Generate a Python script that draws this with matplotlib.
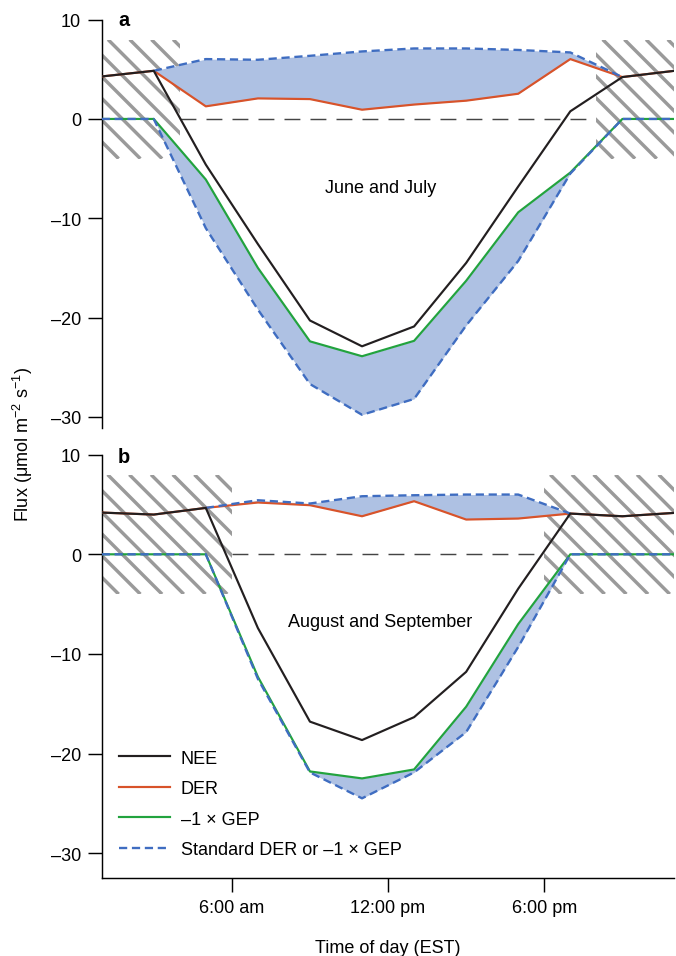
import numpy as np
import matplotlib
matplotlib.use("Agg")
import matplotlib.pyplot as plt
from matplotlib.patches import Rectangle

plt.rcParams['font.family'] = ['Liberation Sans', 'DejaVu Sans']
plt.rcParams['mathtext.fontset'] = 'custom'
plt.rcParams['mathtext.rm'] = 'Liberation Sans'
plt.rcParams['mathtext.default'] = 'regular'
plt.rcParams['font.size'] = 10

# hour of day (EST), two-hourly means
hours = np.arange(1, 24, 2)

# a: June and July
nee_a = [4.28, 4.85, -4.6, -12.6, -20.3, -22.9, -20.9, -14.5, -6.8, 0.77, 4.22, 4.85]
der_a = [4.28, 4.85, 1.27, 2.07, 2.0, 0.93, 1.45, 1.84, 2.54, 6.03, 4.22, 4.85]
gep_a = [0, 0, -6.1, -15.0, -22.4, -23.9, -22.35, -16.3, -9.4, -5.4, 0, 0]
std_gep_a = [0, 0, -11.0, -19.2, -26.7, -29.8, -28.2, -20.8, -14.3, -5.5, 0, 0]
std_der_a = [np.nan, 4.85, 6.03, 5.96, 6.36, 6.8, 7.1, 7.1, 6.95, 6.7, 4.22, np.nan]
night_a = [(1, 4), (20, 23)]

# b: August and September
nee_b = [4.19, 3.99, 4.66, -7.4, -16.8, -18.65, -16.35, -11.8, -3.45, 4.09, 3.82, 4.16]
der_b = [4.19, 3.99, 4.66, 5.2, 4.93, 3.82, 5.33, 3.49, 3.59, 4.09, 3.82, 4.16]
gep_b = [0, 0, 0, -12.3, -21.8, -22.5, -21.6, -15.3, -7.0, 0, 0, 0]
std_gep_b = [0, 0, 0, -12.5, -21.9, -24.5, -21.9, -17.85, -9.3, 0, 0, 0]
std_der_b = [np.nan, np.nan, 4.66, 5.43, 5.1, 5.83, 5.93, 6.0, 6.0, 4.09, np.nan, np.nan]
night_b = [(1, 6), (18, 23)]
night_band = (-4, 8)

yticks = [10, 0, -10, -20, -30]
ytick_labels = ['10', '0', '–10', '–20', '–30']
xticks = [6, 12, 18]
xtick_labels = ['6:00 am', '12:00 pm', '6:00 pm']

c_nee = '#231f20'
c_der = '#d8532a'
c_gep = '#22a33e'
c_std = '#3f6dc1'
c_fill = '#aec1e3'
c_hatch = '#9a9a9a'

fig = plt.figure(figsize=(5.2, 7.3615), dpi=130)
ax_a = fig.add_axes([0.1504, 0.5514, 0.8473, 0.4270])
ax_b = fig.add_axes([0.1504, 0.0815, 0.8473, 0.44232])


def hatch_box(ax, x0, x1, y0, y1, spacing=21.7, phase=17):
    # diagonal "\" stripes at 45 degrees on screen, clipped to the box
    rect = Rectangle((x0, y0), x1 - x0, y1 - y0, facecolor='none',
                     edgecolor='none')
    ax.add_patch(rect)
    (px0, py0), (px1, py1) = ax.transData.transform([(x0, y0), (x1, y1)])
    h = py1 - py0
    inv = ax.transData.inverted()
    for s in np.arange(px0 + phase - h - spacing * 2, px1 + spacing, spacing):
        pts = inv.transform([(s, py1), (s + h, py0)])
        ln, = ax.plot(pts[:, 0], pts[:, 1], color=c_hatch, lw=1.9,
                      solid_capstyle='butt', zorder=1)
        ln.set_clip_path(rect)


def draw_panel(ax, nee, der, gep, std_gep, std_der, night, ylo):
    ax.set_xlim(1, 23)
    ax.set_ylim(ylo, 10)
    for x0, x1 in night:
        hatch_box(ax, x0, x1, *night_band)
    ax.hlines(0, night[0][1], night[1][0], colors='#444444', linewidth=0.8,
              linestyles=(0, (11, 7)), zorder=1)
    ax.fill_between(hours, der, std_der, color=c_fill, linewidth=0, zorder=2)
    ax.fill_between(hours, gep, std_gep, color=c_fill, linewidth=0, zorder=2)
    ax.plot(hours, der, color=c_der, lw=1.2, zorder=3, label='DER')
    ax.plot(hours, nee, color=c_nee, lw=1.2, zorder=4, label='NEE')
    ax.plot(hours, gep, color=c_gep, lw=1.2, zorder=3, label='–1 × GEP')
    ax.plot(hours, std_gep, color=c_std, lw=1.3, dashes=(3.5, 2), zorder=3.5,
            label='Standard DER or –1 × GEP')
    ax.plot(hours, std_der, color=c_std, lw=1.3, dashes=(3.5, 2), zorder=3.5)
    ax.set_yticks(yticks, labels=ytick_labels)
    ax.spines['top'].set_visible(False)
    ax.spines['right'].set_visible(False)
    ax.spines['left'].set_linewidth(0.8)
    ax.spines['bottom'].set_linewidth(0.8)
    ax.tick_params(direction='out', length=8, width=0.8, pad=3.5, labelsize=10)


draw_panel(ax_a, nee_a, der_a, gep_a, std_gep_a, std_der_a, night_a, -31.16)
draw_panel(ax_b, nee_b, der_b, gep_b, std_gep_b, std_der_b, night_b, -32.5)

ax_a.spines['bottom'].set_visible(False)
ax_a.set_xticks([])
ax_b.set_xticks(xticks, labels=xtick_labels)
ax_b.set_xlabel('Time of day (EST)', labelpad=13)

ax_a.text(11.7, -6.9, 'June and July', ha='center', va='center', fontsize=10)
ax_b.text(11.7, -6.7, 'August and September', ha='center', va='center', fontsize=10)

fig.text(0.1746, 0.9728, 'a', fontweight='bold', fontsize=11, va='baseline')
fig.text(0.1746, 0.5162, 'b', fontweight='bold', fontsize=11, va='baseline')
fig.text(0.034, 0.536, 'Flux (μmol m$^{-2}$ s$^{-1}$)', rotation=90,
         ha='center', va='center', fontsize=10)

h, l = ax_b.get_legend_handles_labels()
order = [l.index('NEE'), l.index('DER'), l.index('–1 × GEP'),
         l.index('Standard DER or –1 × GEP')]
ax_b.legend([h[i] for i in order], [l[i] for i in order], loc='center left',
            bbox_to_anchor=(0.031, 0.175), frameon=False, borderpad=0,
            borderaxespad=0, handlelength=2.8, handletextpad=0.6,
            labelspacing=0.75, fontsize=10)

fig.savefig('out.png', dpi=130)
